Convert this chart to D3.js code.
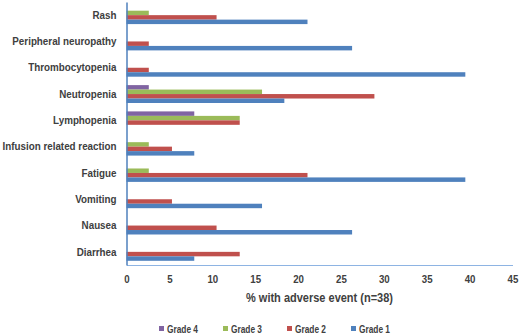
<!DOCTYPE html>
<html>
<head>
<meta charset="utf-8">
<script src="https://cdn.jsdelivr.net/npm/d3@7"></script>
<style>
  html, body { margin: 0; padding: 0; background: #fff; }
  svg { display: block; }
  text { font-family: "Liberation Sans", Arial, sans-serif; font-weight: bold; fill: #404040; }
</style>
</head>
<body>
<svg id="chart" width="520" height="334"></svg>
<script>
const categories = ["Rash", "Peripheral neuropathy", "Thrombocytopenia", "Neutropenia", "Lymphopenia",
  "Infusion related reaction", "Fatigue", "Vomiting", "Nausea", "Diarrhea"];
const seriesNames = ["Grade 4", "Grade 3", "Grade 2", "Grade 1"];
const grade4 = [0, 0, 0, 2.6, 7.9, 0, 0, 0, 0, 0];
const grade3 = [2.6, 0, 0, 15.8, 13.2, 2.6, 2.6, 0, 0, 0];
const grade2 = [10.5, 2.6, 2.6, 28.9, 13.2, 5.3, 21.1, 5.3, 10.5, 13.2];
const grade1 = [21.1, 26.3, 39.5, 18.4, 0, 7.9, 39.5, 15.8, 26.3, 7.9];
const xTicks = [0, 5, 10, 15, 20, 25, 30, 35, 40, 45];
const xTitle = "% with adverse event (n=38)";

const seriesValues = [grade4, grade3, grade2, grade1];
const colors = ["#8064A2", "#9BBB59", "#C0504D", "#4F81BD"];

const svg = d3.select("#chart");
const mLeft = 126.5, mRight = 512.5, mTop = 2, mBottom = 265;

const x = d3.scaleLinear().domain([0, 45]).range([mLeft, mRight]);
const y = d3.scaleBand().domain(categories).range([mTop, mBottom]).paddingInner(0.32).paddingOuter(0.16);
const ySub = d3.scaleBand().domain(seriesNames).range([0, y.bandwidth()]);

// condense text horizontally (Calibri-like narrowness)
function condense(sel, k) {
  sel.each(function () {
    const w = this.getComputedTextLength();
    this.setAttribute("textLength", (w * k).toFixed(2));
    this.setAttribute("lengthAdjust", "spacingAndGlyphs");
  });
}

// bars
const groups = svg.append("g").selectAll("g").data(categories).join("g")
  .attr("transform", d => `translate(0,${y(d)})`);
groups.selectAll("rect")
  .data((c, i) => seriesNames.map((s, k) => ({ s, v: seriesValues[k][i], color: colors[k] })).filter(d => d.v > 0))
  .join("rect")
  .attr("x", x(0))
  .attr("y", d => ySub(d.s))
  .attr("width", d => x(d.v) - x(0))
  .attr("height", ySub.bandwidth())
  .attr("fill", d => d.color);

// x axis
const xAxis = svg.append("g").attr("transform", `translate(0,${mBottom})`)
  .call(d3.axisBottom(x).tickValues(xTicks).tickSize(0).tickPadding(10));
xAxis.select(".domain").attr("stroke", "#8EB4E3").attr("stroke-width", 1.2);
xAxis.selectAll("text").style("font-size", "11px").attr("fill", "#404040");
condense(xAxis.selectAll("text"), 0.88);

// y axis
const yAxis = svg.append("g").attr("transform", `translate(${mLeft},0)`)
  .call(d3.axisLeft(y).tickSize(0).tickPadding(10));
yAxis.select(".domain").attr("stroke", "#4F81BD").attr("stroke-width", 1.5);
const yLabels = yAxis.selectAll("text").style("font-size", "11.5px").attr("fill", "#404040");
let refW = 0;
yLabels.each(function (d) { if (d === "Infusion related reaction") refW = this.getComputedTextLength(); });
condense(yLabels, refW ? 114 / refW : 0.85);

// axis title
const title = svg.append("text").attr("x", (mLeft + mRight) / 2).attr("y", 302)
  .attr("text-anchor", "middle").style("font-size", "12px").text(xTitle);
condense(title, 147 / title.node().getComputedTextLength());

// legend
const legend = svg.append("g").selectAll("g").data(seriesNames).join("g")
  .attr("transform", (d, i) => `translate(${159 + i * 64},329)`);
legend.append("rect").attr("x", 0).attr("y", -3).attr("width", 5).attr("height", 5)
  .attr("fill", (d, i) => colors[i]);
const legText = legend.append("text").attr("x", 8).attr("y", 0).attr("dy", "0.35em")
  .style("font-size", "10.5px").text(d => d);
condense(legText, 31 / legText.node().getComputedTextLength());
</script>
</body>
</html>
